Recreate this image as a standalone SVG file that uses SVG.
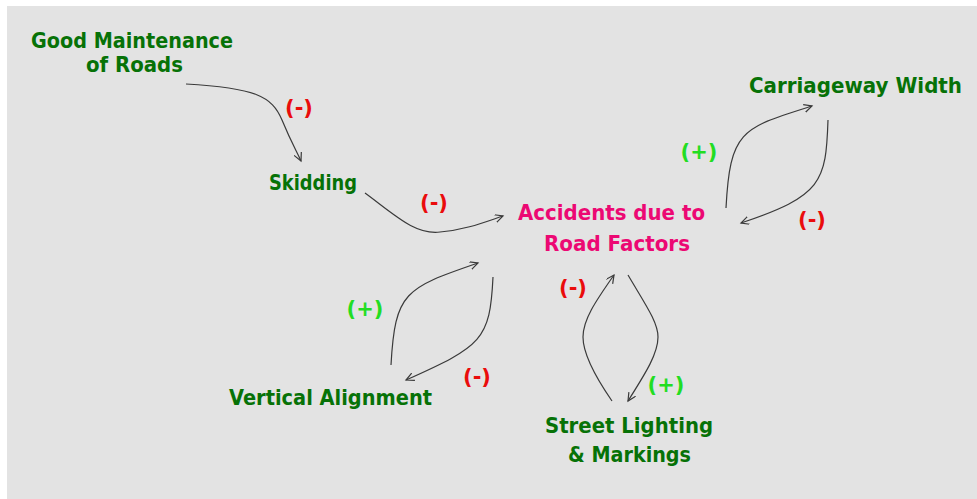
<svg xmlns="http://www.w3.org/2000/svg" width="977" height="499" viewBox="0 0 977 499">
  <style>
    .node { font-family: "Comic Sans MS", "DejaVu Sans", "Noto Sans", sans-serif; font-weight: bold; font-size: 21px; fill: #077207; }
    .focus { fill: #ec0873; }
    .neg { font-family: "Comic Sans MS", "DejaVu Sans", sans-serif; font-weight: bold; font-size: 21px; fill: #ea0c0c; text-anchor: middle; }
    .pos { font-family: "Comic Sans MS", "DejaVu Sans", sans-serif; font-weight: bold; font-size: 21px; fill: #22dd22; text-anchor: middle; }
    .link { fill: none; stroke: #3a3a3a; stroke-width: 1.2; marker-end: url(#arrow); }
  </style>
  <defs>
    <marker id="arrow" markerUnits="userSpaceOnUse" markerWidth="12" markerHeight="12" refX="8" refY="4" orient="auto">
      <path d="M0,0 L8,4 L0,8" fill="none" stroke="#3a3a3a" stroke-width="1.2"/>
    </marker>
  </defs>

  <rect x="7" y="6" width="970" height="493" fill="#e3e3e3"/>

  <g id="connectors">
    <path class="link" d="M186,84 C255,88 272,96 282,120 S296,150 301,161"/>
    <path class="link" d="M365,193 C395,215 415,235 440,232 C465,230 485,222 503,216"/>
    <path class="link" d="M726,208 C730,130 742,128 812,106"/>
    <path class="link" d="M828,120 C826,182 822,196 741,223"/>
    <path class="link" d="M391,365 C395,292 405,288 478,263"/>
    <path class="link" d="M493,277 C490,340 482,346 406,380"/>
    <path class="link" d="M612,401 C592,372 583,352 583,337 C583,320 595,302 614,275"/>
    <path class="link" d="M628,275 C645,304 658,322 658,337 C658,354 645,374 628,401"/>
  </g>

  <g id="polarity">
    <text class="neg" x="299" y="115">(-)</text>
    <text class="neg" x="434" y="210">(-)</text>
    <text class="pos" x="699" y="159">(+)</text>
    <text class="neg" x="812" y="227">(-)</text>
    <text class="pos" x="365" y="316">(+)</text>
    <text class="neg" x="477" y="384">(-)</text>
    <text class="neg" x="573" y="295">(-)</text>
    <text class="pos" x="666" y="392">(+)</text>
  </g>

  <g id="good-maintenance">
    <text class="node" x="31" y="48" textLength="202" lengthAdjust="spacingAndGlyphs">Good Maintenance</text>
    <text class="node" x="86" y="72" textLength="97" lengthAdjust="spacingAndGlyphs">of Roads</text>
  </g>
  <g id="skidding">
    <text class="node" x="269" y="190" textLength="88" lengthAdjust="spacingAndGlyphs">Skidding</text>
  </g>
  <g id="accidents">
    <text class="node focus" x="518" y="220" textLength="187" lengthAdjust="spacingAndGlyphs">Accidents due to</text>
    <text class="node focus" x="544" y="251" textLength="146" lengthAdjust="spacingAndGlyphs">Road Factors</text>
  </g>
  <g id="carriageway-width">
    <text class="node" x="749" y="93" textLength="213" lengthAdjust="spacingAndGlyphs">Carriageway Width</text>
  </g>
  <g id="vertical-alignment">
    <text class="node" x="229" y="405" textLength="203" lengthAdjust="spacingAndGlyphs">Vertical Alignment</text>
  </g>
  <g id="street-lighting">
    <text class="node" x="545" y="433" textLength="168" lengthAdjust="spacingAndGlyphs">Street Lighting</text>
    <text class="node" x="568" y="462" textLength="123" lengthAdjust="spacingAndGlyphs">&amp; Markings</text>
  </g>
</svg>
